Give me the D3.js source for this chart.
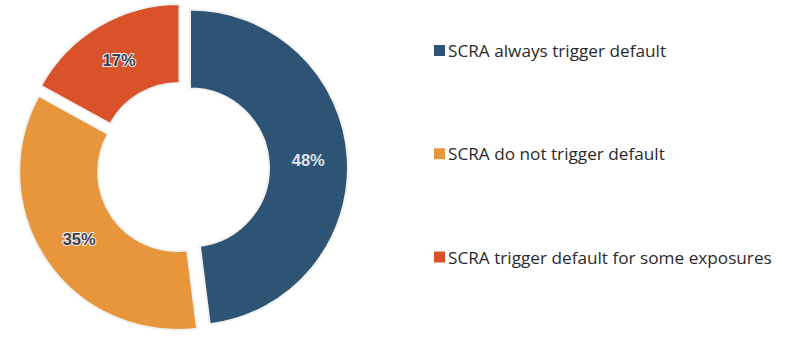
<!DOCTYPE html>
<html>
<head>
<meta charset="utf-8">
<script src="https://cdn.jsdelivr.net/npm/d3@7"></script>
<style>
  html, body { margin: 0; padding: 0; background: #ffffff; }
  svg { display: block; }
</style>
</head>
<body>
<svg id="chart" width="793" height="337"></svg>
<script>
// Share of responses per treatment of SCRA
const categories = [
  "SCRA always trigger default",
  "SCRA do not trigger default",
  "SCRA trigger default for some exposures"
];
const values = [48, 35, 17];
const colors = ["#2D5475", "#E8963C", "#D9522A"];
const labelFill = ["#dfe3ea", "#3d3d4a", "#3d3d4a"];
const labelStroke = ["none", "#f3f3f3", "#f3f3f3"];

const svg = d3.select("#chart");
const cx = 183, cy = 168;
const outerR = 158, innerR = 79, explode = 7;

const pie = d3.pie().sort(null).value(d => d)(values);
const arc = d3.arc().innerRadius(innerR).outerRadius(outerR);

const g = svg.append("g").attr("transform", `translate(${cx},${cy})`);

const slices = g.selectAll("g.slice")
  .data(pie)
  .join("g")
  .attr("class", "slice")
  .attr("transform", d => {
    const a = (d.startAngle + d.endAngle) / 2;
    return `translate(${Math.sin(a) * explode},${-Math.cos(a) * explode})`;
  });

slices.append("path")
  .attr("d", arc)
  .attr("fill", (d, i) => colors[i])
  .attr("stroke", "#f2f2f2")
  .attr("stroke-width", 2);

slices.append("text")
  .attr("transform", d => `translate(${arc.centroid(d)})`)
  .attr("text-anchor", "middle")
  .attr("dominant-baseline", "central")
  .attr("font-family", "'Liberation Sans', Arial, sans-serif")
  .attr("font-weight", "bold")
  .attr("font-size", 16.5)
  .attr("paint-order", "stroke")
  .attr("stroke", (d, i) => labelStroke[i])
  .attr("stroke-width", 2)
  .attr("fill", (d, i) => labelFill[i])
  .text(d => d.data + "%");

// Legend
const legendY = d3.scalePoint().domain(categories).range([50.5, 257]);
const legend = svg.append("g")
  .selectAll("g")
  .data(categories)
  .join("g")
  .attr("transform", d => `translate(434,${legendY(d)})`);

legend.append("rect")
  .attr("x", 0).attr("y", -5.5)
  .attr("width", 11).attr("height", 11)
  .attr("fill", (d, i) => colors[i]);

legend.append("text")
  .attr("x", 14)
  .attr("y", 0)
  .attr("dominant-baseline", "central")
  .attr("font-family", "'Open Sans', sans-serif")
  .attr("font-size", 17.2)
  .attr("fill", "#2a2a2a")
  .text(d => d);
</script>
</body>
</html>
